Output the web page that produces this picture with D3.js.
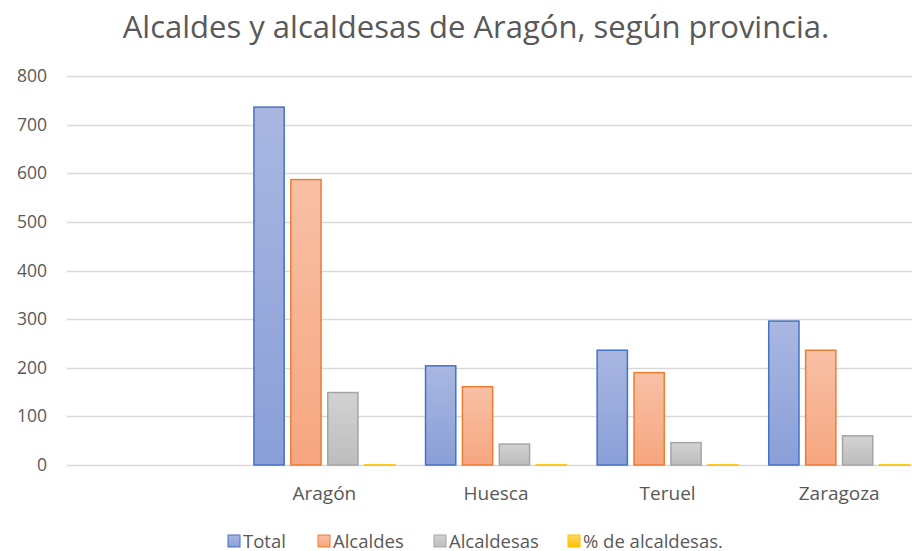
<!DOCTYPE html>
<html>
<head>
<meta charset="utf-8">
<script src="https://cdn.jsdelivr.net/npm/d3@7"></script>
<style>
body { margin: 0; background: #fff; }
text { font-family: "Open Sans", "Noto Sans", sans-serif; fill: #595959; }
</style>
</head>
<body>
<div id="chart"></div>
<script>
// data
var categories = ["", "Aragón", "Huesca", "Teruel", "Zaragoza"];
var seriesNames = ["Total", "Alcaldes", "Alcaldesas", "% de alcaldesas."];
var total = [null, 736, 204, 236, 296];
var alcaldes = [null, 587, 161, 190, 236];
var alcaldesas = [null, 149, 43, 46, 60];
var pctAlcaldesas = [null, 0.20, 0.21, 0.19, 0.20];
var yTicks = [0, 100, 200, 300, 400, 500, 600, 700, 800];

var width = 912, height = 551;
var colours = [
  { top: "#a9b7e1", bottom: "#8a9fd8", stroke: "#4472c4" },
  { top: "#f8c0a6", bottom: "#f6a680", stroke: "#ed7d31" },
  { top: "#d2d2d2", bottom: "#bdbdbd", stroke: "#a5a5a5" },
  { top: "#ffd766", bottom: "#ffc000", stroke: "#ffc000" }
];

var svg = d3.select("#chart").append("svg")
  .attr("width", width).attr("height", height);

var defs = svg.append("defs");
colours.forEach(function(c, i) {
  var g = defs.append("linearGradient").attr("id", "grad" + i)
    .attr("x1", 0).attr("y1", 0).attr("x2", 0).attr("y2", 1);
  g.append("stop").attr("offset", "0%").attr("stop-color", c.top);
  g.append("stop").attr("offset", "100%").attr("stop-color", c.bottom);
});

// title
svg.append("text")
  .attr("x", 476).attr("y", 38)
  .attr("text-anchor", "middle")
  .style("font-size", "31px")
  .text("Alcaldes y alcaldesas de Aragón, según provincia.");

var x0 = d3.scaleBand().domain(d3.range(categories.length))
  .range([67, 925]).paddingInner(0.14).paddingOuter(0.07);
var x1 = d3.scaleBand().domain(d3.range(seriesNames.length))
  .range([0, x0.bandwidth()]).paddingInner(0.18).paddingOuter(0.09);
var y = d3.scaleLinear().domain([0, 800]).range([465, 76]);

// gridlines
svg.append("g").selectAll("line").data(yTicks).enter().append("line")
  .attr("x1", 67).attr("x2", width)
  .attr("y1", function(d) { return Math.round(y(d)) + 0.5; })
  .attr("y2", function(d) { return Math.round(y(d)) + 0.5; })
  .attr("stroke", "#d9d9d9").attr("stroke-width", 1.3);

// y axis labels
var yAxis = d3.axisLeft(y).tickValues(yTicks).tickSize(0).tickPadding(0);
var ya = svg.append("g").attr("transform", "translate(47,0)").call(yAxis);
ya.select(".domain").remove();
ya.selectAll("text").style("font-size", "17.5px").attr("fill", "#595959")
  .style("font-family", "'Open Sans', sans-serif");

// bars
var table = [total, alcaldes, alcaldesas, pctAlcaldesas];
var groups = svg.append("g").selectAll("g").data(categories).enter().append("g")
  .attr("transform", function(d, i) { return "translate(" + x0(i) + ",0)"; });

groups.selectAll("rect")
  .data(function(d, i) {
    return table.map(function(s, k) { return { k: k, v: s[i] }; })
      .filter(function(e) { return e.v != null; });
  })
  .enter().append("rect")
  .attr("x", function(d) { return x1(d.k); })
  .attr("width", x1.bandwidth())
  .attr("y", function(d) { return y(d.v); })
  .attr("height", function(d) { return y(0) - y(d.v); })
  .attr("fill", function(d) { return "url(#grad" + d.k + ")"; })
  .attr("stroke", function(d) { return colours[d.k].stroke; })
  .attr("stroke-width", 1.5);

// category labels
svg.append("g").selectAll("text").data(categories).enter().append("text")
  .attr("x", function(d, i) { return x0(i) + x0.bandwidth() / 2; })
  .attr("y", 500)
  .attr("text-anchor", "middle")
  .style("font-size", "19px")
  .text(function(d) { return d; });

// legend
var legendX = [228, 318, 434, 568];
var legend = svg.append("g").selectAll("g").data(seriesNames).enter().append("g")
  .attr("transform", function(d, i) { return "translate(" + legendX[i] + ",535)"; });
legend.append("rect")
  .attr("width", 12).attr("height", 12)
  .attr("fill", function(d, i) { return "url(#grad" + i + ")"; })
  .attr("stroke", function(d, i) { return colours[i].stroke; })
  .attr("stroke-width", 1);
legend.append("text")
  .attr("x", 15).attr("y", 12.5)
  .style("font-size", "18.5px")
  .text(function(d) { return d; });
</script>
</body>
</html>
